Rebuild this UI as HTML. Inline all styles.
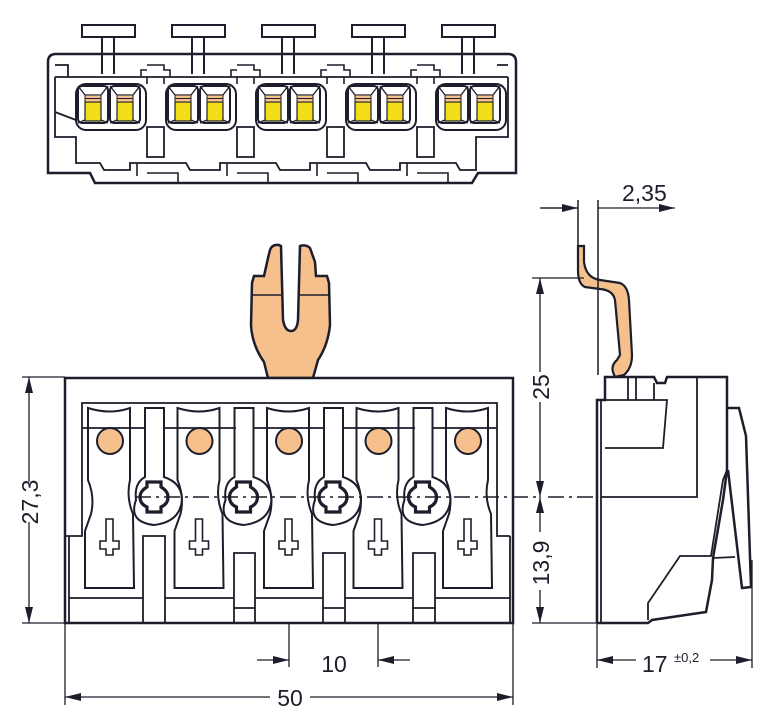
<!DOCTYPE html>
<html><head><meta charset="utf-8"><style>html,body{margin:0;padding:0;background:#fff}svg{display:block}text{font-family:"Liberation Sans",sans-serif;fill:#1d1d2b}</style></head><body>
<svg width="762" height="723" viewBox="0 0 762 723" xmlns="http://www.w3.org/2000/svg">
<defs>
<g id="tp" fill="none" stroke="#1d1d2b" stroke-width="2">
<rect x="82" y="25" width="53" height="12" fill="#fff"/>
<path d="M102,37 V74 M114,37 V74"/>
<rect x="76" y="84" width="70" height="46" rx="10"/>
<rect x="78" y="86" width="30" height="37" rx="4"/><rect x="110" y="86" width="30" height="37" rx="4"/>
<path d="M78,86 L85,95 H101 L108,86 M78,123 L85,120 M108,123 L101,120 M110,86 L117,95 H133 L140,86 M110,123 L117,120 M140,123 L133,120" stroke-width="1.3"/>
<rect x="85" y="102" width="16" height="19" fill="#f2de18" stroke-width="1.2"/>
<rect x="117" y="102" width="16" height="19" fill="#f2de18" stroke-width="1.2"/>
<rect x="85" y="95" width="16" height="7" fill="#f6c08d" stroke-width="1"/><path d="M85,98.5 H101" stroke-width="1"/>
<rect x="117" y="95" width="16" height="7" fill="#f6c08d" stroke-width="1"/><path d="M117,98.5 H133" stroke-width="1"/>
</g>
<g id="pad" fill="none" stroke="#1d1d2b" stroke-width="2">
<path d="M88,408 Q110,415 130,408 L130,480 Q126,497 133,514 L134,588 L85,588 L85,531 L91,514 Q95,497 88,480 Z"/>
<circle cx="110" cy="441" r="13" fill="#f6c08d"/>
<path d="M106,519 H113 V541 H119 V549 H113 V555 H106 V549 H100 V541 H106 Z" stroke-width="1.6"/>
</g>
<g id="key" fill="none" stroke="#1d1d2b">
<path d="M145,408 H164 V477 Q182,483 182,500 Q180,522 154,525 Q128,522 136,500 Q134,483 145,477 Z" stroke-width="2"/>
<path d="M147,482 H161 V487 Q168,491 168,497 Q168,504 161,507 V512 H147 V507 Q140,504 140,497 Q140,491 147,487 Z" stroke-width="3.2"/>
</g>
<marker id="a" viewBox="0 0 16 8" refX="16" refY="4" markerWidth="16" markerHeight="8" markerUnits="userSpaceOnUse" orient="auto"><path d="M0,0 L16,4 L0,8 Z" fill="#1d1d2b"/></marker>
</defs>

<!-- TOP VIEW -->
<g fill="none" stroke="#1d1d2b">
<path d="M48,62 Q48,54 56,54 H508 Q516,54 516,62 V173 H478 L472,183 H95 L90,173 H48 Z" stroke-width="2.5" fill="#fff"/>
<path d="M55,77 H508 M55,65 H68 V77 M497,65 H508 M55,77 V137 H76 V163 H100 L104,170 H130 V163 H186 L190,170 H220 V163 H276 L280,170 H310 V163 H366 L370,170 H400 V163 H456 L460,170 H476 V137 H508 V77 M55,112 L76,120" stroke-width="1.8"/>
<path d="M147,127 H164 V157 H147 Z M237,127 H254 V157 H237 Z M327,127 H344 V157 H327 Z M417,127 H434 V157 H417 Z" stroke-width="1.8"/>
<path d="M147,65 H164 V70 H170 V77 M141,77 V70 H147 M237,65 H254 V70 H260 V77 M231,77 V70 H237 M327,65 H344 V70 H350 V77 M321,77 V70 H327 M417,65 H434 V70 H440 V77 M411,77 V70 H417" stroke-width="1.6"/>
<path d="M147,77 V84 M164,77 V84 M237,77 V84 M254,77 V84 M327,77 V84 M344,77 V84 M417,77 V84 M434,77 V84" stroke-width="1.6"/>
<path d="M147,173 H178 V183 M237,173 H268 V183 M327,173 H358 V183 M417,173 H448 V183 M137,163 V176 M227,163 V176 M317,163 V176 M407,163 V176" stroke-width="1.6"/>
</g>
<use href="#tp"/><use href="#tp" x="90"/><use href="#tp" x="180"/><use href="#tp" x="270"/><use href="#tp" x="360"/>

<!-- LEVER FRONT -->
<path d="M264,276 L268,258 L270,250 Q272,244 279,245 L281,246 L283,320 Q285,331 291,331 Q297,331 298,320 L300,246 Q306,244 310,248 L315,262 L316,276 L327,276 L329,283 L330,325 Q328,345 318,360 L313,378 L268,378 L264,362 Q252,345 251,325 L252,283 L254,276 Z" fill="#f6c08d" stroke="#1d1d2b" stroke-width="2.5"/>
<path d="M253,295 H282 M299,295 H329" stroke="#1d1d2b" stroke-width="1.5"/>

<!-- FRONT VIEW -->
<rect x="65" y="378" width="448" height="245" fill="#fff" stroke="#1d1d2b" stroke-width="2.5"/>
<g fill="none" stroke="#1d1d2b" stroke-width="1.8">
<path d="M66,536 H82 V403 H497 V536 H510 M82,428 H497 M69,536 V623 M510,536 V623 M69,598 H143 M165,598 H234 M255,598 H323 M345,598 H413 M435,598 H510"/>
<path d="M143,623 V536 H165 V623 M234,623 V553 H255 V623 M234,608 H255 M323,623 V553 H345 V623 M323,608 H345 M413,623 V553 H435 V623 M413,608 H435"/>
</g>
<g fill="#fff"><rect x="85" y="410" width="48" height="17"/><rect x="175" y="410" width="48" height="17"/><rect x="264" y="410" width="48" height="17"/><rect x="354" y="410" width="48" height="17"/><rect x="443" y="410" width="48" height="17"/></g>
<use href="#pad"/><use href="#pad" x="89.5"/><use href="#pad" x="179"/><use href="#pad" x="268.5"/><use href="#pad" x="358"/>
<rect x="146" y="409" width="17" height="20" fill="#fff"/><rect x="236" y="409" width="17" height="20" fill="#fff"/><rect x="325" y="409" width="17" height="20" fill="#fff"/><rect x="415" y="409" width="17" height="20" fill="#fff"/>
<use href="#key"/><use href="#key" x="89.5"/><use href="#key" x="179"/><use href="#key" x="268.5"/>
<path d="M135,497 H540 M548,497 H597" stroke="#1d1d2b" stroke-width="1.5" stroke-dasharray="16,5,3,5"/>

<!-- SIDE VIEW -->
<path d="M578,246 L584,246 L584,262 Q586,278 600,280 L620,283 Q628,286 629,300 L632,355 Q632,368 624,375 L615,377 L613,372 Q611,365 617,360 L620,355 L615,300 Q613,290 600,289 L585,287 Q578,284 578,270 Z" fill="#f6c08d" stroke="#1d1d2b" stroke-width="2.2"/>
<g fill="none" stroke="#1d1d2b" stroke-width="1.8">
<path d="M597,623 V400 H605 V377 H654 L657,383 H665 L667,377 H727 V408 H739 L746,436 L751,587 L742,588 L728,470" stroke-width="2.5"/>
<path d="M727,408 V470 L723,500 L713,558 L712,580 L706,612 L652,620 L648,623 H597" stroke-width="2.5"/>
<path d="M601,400 V623 M605,400 H667 L663,448 H605 M628,377 V400 M636,377 V400 M654,383 V400 M697,377 V497 H601 M727,470 L723,480 L711,556 H680 L648,603 V620 M713,558 L735,557"/>
</g>

<!-- DIMENSIONS -->
<g stroke="#1d1d2b" stroke-width="1.3" fill="none">
<path d="M578,200 V246 M598,200 V375 M541,208 H578 M635,208 H598 M598,208 H675" marker-end="url(#a)"/>
<path d="M578,200 V246 M598,200 V375 M540,208 H578" marker-end="url(#a)"/>
<path d="M532,278 H584"/>
<path d="M540,372 V278" marker-end="url(#a)"/><path d="M540,402 V497" marker-end="url(#a)"/>
<path d="M540,532 V497" marker-end="url(#a)"/><path d="M540,590 V623" marker-end="url(#a)"/>
<path d="M532,623 H597"/>
<path d="M22,377 H65 M22,623 H65"/>
<path d="M29,482 V377" marker-end="url(#a)"/><path d="M29,522 V623" marker-end="url(#a)"/>
<path d="M65,623 V705 M513,623 V705 M289,623 V667 M378,623 V667 M597,623 V668 M752,560 V668"/>
<path d="M257,660 H289" marker-end="url(#a)"/><path d="M410,660 H378" marker-end="url(#a)"/>
<path d="M270,697 H65" marker-end="url(#a)"/><path d="M310,697 H513" marker-end="url(#a)"/>
<path d="M636,660 H597" marker-end="url(#a)"/><path d="M710,660 H752" marker-end="url(#a)"/>
</g>
<g font-size="23">
<text x="622" y="201">2,35</text>
<text transform="translate(549,387) rotate(-90)" text-anchor="middle">25</text>
<text transform="translate(549,563) rotate(-90)" text-anchor="middle">13,9</text>
<text transform="translate(38,502) rotate(-90)" text-anchor="middle">27,3</text>
<text x="334" y="672" text-anchor="middle">10</text>
<text x="290" y="706" text-anchor="middle">50</text>
<text x="642" y="672">17</text>
<text x="674" y="662" font-size="13">±0,2</text>
</g>
</svg>
</body></html>
